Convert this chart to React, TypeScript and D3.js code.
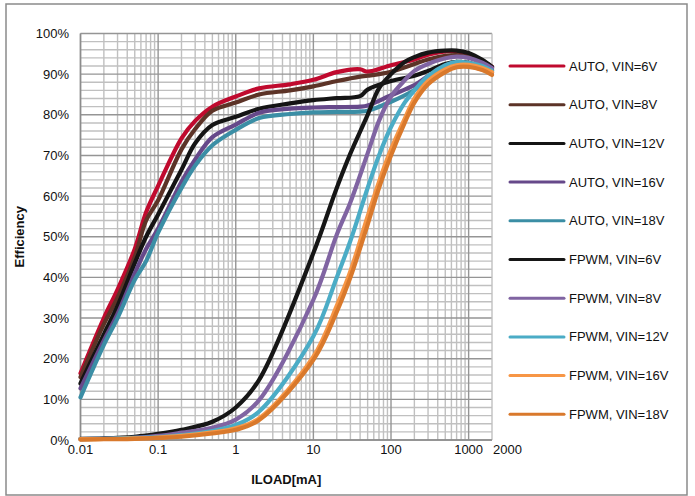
import React from "react";
import * as d3 from "d3";

const AUTO_X = [0.01, 0.02, 0.03, 0.05, 0.07, 0.1, 0.2, 0.3, 0.5, 1, 2, 5, 10, 20, 40, 50, 100, 200, 300, 500, 700, 1000, 2000];
const auto6 = [16.4, 30, 37, 47, 56, 62.5, 74.2, 78.5, 82, 84.5, 86.5, 87.5, 88.6, 90.5, 91.2, 90.6, 92.2, 93.6, 94.8, 95.6, 95.6, 95, 91.8];
const auto8 = [15.5, 28.5, 35, 45, 54, 59, 71.5, 76.5, 81, 83, 85, 86, 87, 88.3, 89.4, 89.6, 90.6, 92.5, 93.6, 94.5, 94.7, 94.2, 91.5];
const auto12 = [13.9, 26, 33, 43.5, 50, 55.5, 66.5, 73, 77.5, 79.5, 81.5, 82.8, 83.6, 84.1, 84.6, 86.2, 88.3, 89.6, 90.8, 92.5, 93, 92.8, 91];
const auto16 = [12.7, 24.5, 31, 41, 47, 52, 63.5, 69, 74.5, 77.6, 80.5, 81.5, 81.8, 81.9, 82, 82.3, 84.8, 87.3, 89.5, 91.7, 92.2, 92, 90.4];
const auto18 = [10.5, 23.4, 30, 39.4, 44, 51, 62, 67.5, 72.5, 76.3, 79.2, 80.2, 80.6, 80.7, 80.8, 81, 83.2, 86.1, 88.7, 91.5, 92.5, 92.6, 90.8];

const FPWM_X = [0.01, 0.02, 0.05, 0.1, 0.2, 0.5, 1, 2, 10, 20, 30, 50, 70, 100, 150, 200, 300, 500, 700, 1000, 1500, 2000];
const fpwm6 = [0.3, 0.4, 0.8, 1.5, 2.5, 4.5, 8, 14.8, 46, 62, 70.5, 80, 86.5, 90, 93, 94.2, 95.3, 95.8, 95.8, 95.2, 93.5, 91.8];
const fpwm8 = [0.2, 0.3, 0.5, 1, 1.8, 3, 5, 9.8, 34.5, 50.5, 58.5, 70.5, 78.5, 84.5, 88.5, 90.8, 92.5, 93.9, 94.3, 94, 92.8, 91.5];
const fpwm12 = [0.2, 0.3, 0.5, 0.7, 1.2, 2.2, 3.7, 7, 25.5, 40, 49, 62, 70, 77, 83, 86, 89.5, 92.2, 93, 92.8, 92, 90.8];
const fpwm16 = [0.2, 0.25, 0.4, 0.6, 1, 1.9, 2.9, 5.3, 20.5, 33, 41.5, 55, 63.5, 71.5, 79, 84, 88.3, 91.2, 92.2, 92.3, 91.5, 90.5];
const fpwm18 = [0.1, 0.2, 0.3, 0.5, 0.8, 1.6, 2.5, 4.9, 19.7, 31.5, 40, 53, 62, 70, 78, 83, 87.5, 90.5, 91.7, 91.8, 91, 89.8];

const SERIES_NAMES = [
  "AUTO, VIN=6V", "AUTO, VIN=8V", "AUTO, VIN=12V", "AUTO, VIN=16V", "AUTO, VIN=18V",
  "FPWM, VIN=6V", "FPWM, VIN=8V", "FPWM, VIN=12V", "FPWM, VIN=16V", "FPWM, VIN=18V",
];
const SERIES_VALUES = [auto6, auto8, auto12, auto16, auto18, fpwm6, fpwm8, fpwm12, fpwm16, fpwm18];
const SERIES_X = [AUTO_X, AUTO_X, AUTO_X, AUTO_X, AUTO_X, FPWM_X, FPWM_X, FPWM_X, FPWM_X, FPWM_X];
const COLORS = ["#C00A2E", "#5C3327", "#141414", "#66498A", "#3B8EA5", "#161616", "#8064A2", "#4BACC6", "#F79646", "#D9792C"];

const X_TICKS = [0.01, 0.1, 1, 10, 100, 1000, 2000];
const X_TICK_LABELS = ["0.01", "0.1", "1", "10", "100", "1000", "2000"];
const Y_TICKS = [0, 10, 20, 30, 40, 50, 60, 70, 80, 90, 100];

const W = 695, H = 496;
const L = 80.5, R = 492, T = 33.5, B = 440;

export default function App() {
  const x = d3.scaleLog().domain([0.01, 2000]).range([L, R]);
  const y = d3.scaleLinear().domain([0, 100]).range([B, T]);

  const minorX: number[] = [];
  [0.01, 0.1, 1, 10, 100].forEach((d) => {
    for (let k = 2; k <= 9; k++) minorX.push(d * k);
  });
  const minorY: number[] = [];
  for (let v = 2; v < 100; v += 2) if (v % 10 !== 0) minorY.push(v);

  const line = d3
    .line<[number, number]>()
    .x((d) => x(d[0]))
    .y((d) => y(d[1]))
    .curve(d3.curveCatmullRom.alpha(0.5));

  const font = "'Liberation Sans', Arial, sans-serif";

  return (
    <svg width={W} height={H} style={{ position: "fixed", left: 0, top: 0, background: "#fff" }} fontFamily={font}>
      <rect x={6} y={4} width={681} height={491} fill="#fff" stroke="#8a8a8a" strokeWidth={1.5} />
      <g>
        {minorY.map((v) => (
          <line key={"my" + v} x1={L} x2={R} y1={y(v)} y2={y(v)} stroke="#c0c0c0" strokeWidth={1.4} />
        ))}
        {minorX.map((v) => (
          <line key={"mx" + v} x1={x(v)} x2={x(v)} y1={T} y2={B} stroke="#c0c0c0" strokeWidth={1.4} />
        ))}
        {Y_TICKS.map((v) => (
          <line key={"gy" + v} x1={L} x2={R} y1={y(v)} y2={y(v)} stroke="#959595" strokeWidth={1.4} />
        ))}
        {[0.01, 0.1, 1, 10, 100, 1000].map((v) => (
          <line key={"gx" + v} x1={x(v)} x2={x(v)} y1={T} y2={B} stroke="#959595" strokeWidth={1.4} />
        ))}
        <line x1={R} x2={R} y1={T} y2={B} stroke="#c0c0c0" strokeWidth={1.4} />
        <line x1={L} x2={L} y1={T} y2={B} stroke="#8c8c8c" strokeWidth={1.5} />
        <line x1={L} x2={R} y1={B} y2={B} stroke="#8c8c8c" strokeWidth={1.5} />
      </g>
      <g>
        {SERIES_VALUES.map((vals, i) => (
          <path
            key={SERIES_NAMES[i]}
            d={line(vals.map((v, j) => [SERIES_X[i][j], v] as [number, number])) || ""}
            fill="none"
            stroke={COLORS[i]}
            strokeWidth={4.2}
            strokeLinejoin="round"
            strokeLinecap="round"
          />
        ))}
      </g>
      <g fontSize={13} fill="#111">
        {Y_TICKS.map((v) => (
          <text key={"yl" + v} x={69} y={y(v)} dy="0.35em" textAnchor="end">
            {v + "%"}
          </text>
        ))}
        {X_TICKS.map((v, i) => (
          <text key={"xl" + v} x={v === 2000 ? x(v) + 15.5 : x(v)} y={454} textAnchor="middle">
            {X_TICK_LABELS[i]}
          </text>
        ))}
      </g>
      <text x={(L + R) / 2} y={484} textAnchor="middle" fontSize={13} fontWeight="bold" fill="#111">
        ILOAD[mA]
      </text>
      <text
        transform={`translate(${23.5},${(T + B) / 2}) rotate(-90)`}
        textAnchor="middle"
        fontSize={13}
        fontWeight="bold"
        fill="#111"
      >
        Efficiency
      </text>
      <g>
        {SERIES_NAMES.map((n, i) => {
          const ly = 66 + i * 38.7;
          return (
            <g key={"lg" + n}>
              <line x1={510} x2={564} y1={ly} y2={ly} stroke={COLORS[i]} strokeWidth={3} strokeLinecap="round" />
              <text x={569} y={ly} dy="0.35em" fontSize={13} fill="#111">
                {n}
              </text>
            </g>
          );
        })}
      </g>
    </svg>
  );
}
